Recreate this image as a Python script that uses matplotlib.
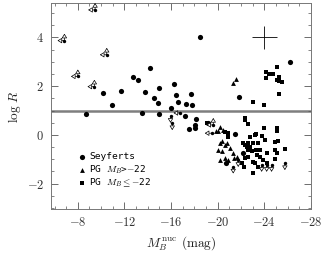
import matplotlib
matplotlib.use("Agg")
import matplotlib.pyplot as plt
import matplotlib.transforms as mtrans
from matplotlib.patches import FancyArrowPatch
from matplotlib.ticker import MultipleLocator

plt.rcParams['mathtext.fontset'] = 'cm'
plt.rcParams['font.family'] = ['DejaVu Serif']

# Seyferts (filled circles)
sey_x = [-8.69, -10.19, -10.97, -11.71, -12.77, -13.14, -13.49, -13.8, -14.2, -14.54,
         -14.89, -15.0, -14.94, -15.97, -16.26, -16.43, -16.57, -17.29, -17.74, -17.77,
         -17.23, -18.14, -18.09, -18.09, -17.54, -18.49, -19.14, -21.86, -21.46, -20.68,
         -26.2, -22.19]
sey_y = [0.85, 1.71, 1.22, 1.79, 2.36, 2.25, 0.89, 1.75, 2.74, 1.51,
         1.32, 1.93, 0.86, 1.12, 2.07, 1.62, 1.34, 1.25, 1.66, 1.22,
         0.78, 0.64, 0.41, 0.30, 0.23, 4.01, 0.49, 1.55, 0.04, -1.16,
         3.01, -0.75]

# PG quasars with M_B > -22 (triangles)
pgf_x = [-21.6, -21.3, -20.19, -20.48, -19.83, -20.05, -20.19, -20.34, -20.62, -20.77,
         -21.05, -20.05, -20.34, -20.19, -20.62, -21.33, -21.42, -21.62, -20.9]
pgf_y = [2.3, 2.15, 0.31, 0.2, 0.18, 0.14, -0.34, -0.27, -0.41, -0.34,
         -0.55, -0.62, -0.68, -1.03, -0.96, -0.75, -0.96, -0.89, -1.03]

# PG quasars with M_B <= -22 (squares)
pgb_x = [-23.05, -23.96, -24.14, -24.1, -24.42, -24.76, -25.05, -25.1, -25.27, -25.27,
         -25.53, -25.27, -22.34, -22.62, -23.96, -25.05, -25.05, -23.28, -22.77, -23.2,
         -23.82, -24.05, -24.9, -25.14, -25.76, -22.19, -22.34, -22.62, -22.77, -22.48,
         -23.05, -23.48, -22.62, -22.91, -23.28, -23.62, -24.2, -24.9, -25.05, -23.34,
         -23.62, -22.62, -22.34, -22.05, -23.05, -23.19, -23.85, -24.2, -24.9, -23.05,
         -23.48, -22.26, -20.62, -20.9, -20.9, -22.34, -19.1]
pgb_y = [1.37, 1.23, 2.58, 2.33, 2.5, 2.5, 2.78, 2.26, 2.37, 2.23,
         2.19, 1.68, 0.62, 0.45, 0.27, 0.27, 0.14, 0.04, -0.07, 0.0,
         -0.04, -0.2, -0.3, -0.27, -0.59, -0.34, -0.4, -0.34, -0.48, -0.48,
         -0.34, -0.32, -0.64, -0.68, -0.62, -0.62, -0.75, -0.62, -0.75, -0.82,
         -0.89, -0.89, -0.96, -1.16, -1.1, -1.16, -1.03, -1.16, -1.0, -1.57,
         -1.3, -1.33, 0.1, 0.07, -0.07, 0.69, 0.48]

# Limits: direction codes 'ul' = up+left, 'l' = left, 'd' = down
lim_x = [-9.48, -6.85, -10.48, -8.0, -9.42, -19.62, -19.48, -16.8, -15.95, -16.1,
         -21.33, -21.76, -23.77, -24.2, -24.62, -25.76]
lim_y = [5.13, 3.87, 3.29, 2.4, 1.98, 0.41, 0.07, 0.9, 0.78, 0.48,
         -1.3, -1.03, -1.23, -1.23, -1.23, -1.16]
lim_dir = ['ul', 'ul', 'ul', 'ul', 'ul', 'ul', 'l', 'l', 'd', 'd',
           'd', 'd', 'd', 'd', 'd', 'd']

# Typical error bar
err_x, err_y, err_dx, err_dy = -24.0, 4.0, 1.05, 0.46

fig = plt.figure(figsize=(3.27, 2.57), dpi=100)
ax = fig.add_axes([0.156, 0.186, 0.795, 0.801])
ax.set_xlim(-5.7, -28)
ax.set_ylim(-3.05, 5.4)

ax.axhline(1.0, color='#7f7f7f', lw=1.8, zorder=1)

ax.scatter(sey_x, sey_y, s=14, marker='o', color='k', zorder=3, linewidths=0)
ax.scatter(pgf_x, pgf_y, s=12, marker='^', color='k', zorder=3, linewidths=0)
ax.scatter(pgb_x, pgb_y, s=12, marker='s', color='k', zorder=3, linewidths=0)

dirs = {'ul': [(0, 5), (5, 0)], 'l': [(5, 0)], 'd': [(0, -5)]}
for x, y, d in zip(lim_x, lim_y, lim_dir):
    ax.scatter([x], [y], s=6, marker='o', color='k', zorder=3, linewidths=0)
    for dx, dy in dirs[d]:
        # 'left' on the page means toward smaller magnitudes (axis is inverted)
        ddx = -dx if dx else 0
        off = mtrans.ScaledTranslation(ddx / 72, dy / 72, fig.dpi_scale_trans)
        end = ax.transData.inverted().transform((ax.transData + off).transform((x, y)))
        arr = FancyArrowPatch((x, y), (end[0], end[1]),
                              arrowstyle='-|>,head_length=2.6,head_width=1.6',
                              lw=0.5, edgecolor='k', facecolor='white',
                              shrinkA=0, shrinkB=0, zorder=4)
        ax.add_patch(arr)

ax.errorbar([err_x], [err_y], xerr=[err_dx], yerr=[err_dy], fmt='none',
            ecolor='k', elinewidth=0.6, capsize=0, zorder=3)

ax.xaxis.set_minor_locator(MultipleLocator(1))
ax.yaxis.set_minor_locator(MultipleLocator(0.5))
ax.set_xticks([-8, -12, -16, -20, -24, -28])
ax.set_yticks([-2, 0, 2, 4])
ax.tick_params(which='both', direction='in', top=True, right=True, color='#555555',
               labelsize=9, labelcolor='#333333', pad=5)
ax.tick_params(which='major', length=5, width=0.6)
ax.tick_params(which='minor', length=2.5, width=0.5)
for s in ax.spines.values():
    s.set_color('#777777')
    s.set_linewidth(0.7)

ax.set_xticklabels(['$-8$', '$-12$', '$-16$', '$-20$', '$-24$', '$-28$'])
ax.set_yticklabels(['$-2$', '$0$', '$2$', '$4$'])

ax.set_xlabel(r'$M_B^{\,\rm nuc}$ $\rm (mag)$', fontsize=9.5, labelpad=4, color='#222222')
ax.set_ylabel(r'$\log\,R$', fontsize=9.5, labelpad=3, color='#222222')

# Legend
leg_x = -8.34
ax.scatter([leg_x], [-0.89], s=14, marker='o', color='k', linewidths=0)
ax.scatter([leg_x], [-1.44], s=12, marker='^', color='k', linewidths=0)
ax.scatter([leg_x], [-1.99], s=12, marker='s', color='k', linewidths=0)
ax.text(-9.0, -0.89, 'Seyferts', fontsize=6.8, va='center', ha='left', family='DejaVu Sans Mono')
ax.text(-9.0, -1.44, r'PG $M_B$>$-$22', fontsize=6.8, va='center', ha='left', family='DejaVu Sans Mono')
ax.text(-9.0, -1.99, r'PG $M_B$$\leq$$-$22', fontsize=6.8, va='center', ha='left', family='DejaVu Sans Mono')

fig.savefig('out.png', dpi=100)
